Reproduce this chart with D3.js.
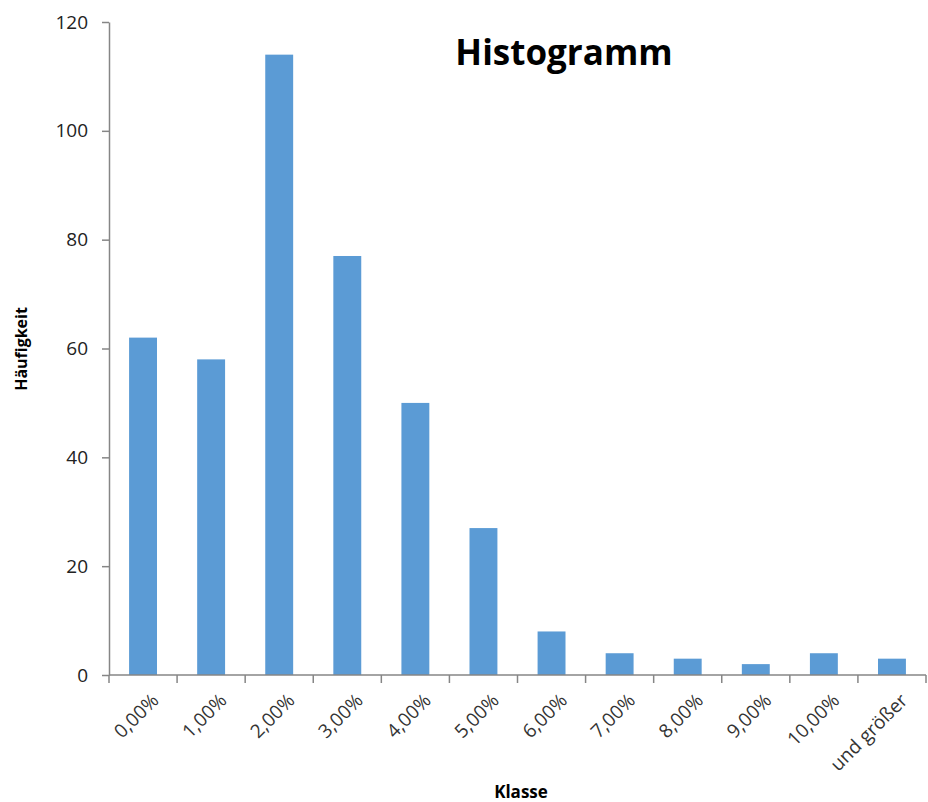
<!DOCTYPE html>
<html><head><meta charset="utf-8">
<script src="https://cdn.jsdelivr.net/npm/d3@7"></script>
<style>body{margin:0;background:#fff;font-family:"Open Sans",Calibri,sans-serif}</style>
</head><body><svg id="c" width="928" height="802"></svg>
<script>
const categories=["0,00%","1,00%","2,00%","3,00%","4,00%","5,00%","6,00%","7,00%","8,00%","9,00%","10,00%","und größer"];
const values=[62,58,114,77,50,27,8,4,3,2,4,3];
const yTicks=[0,20,40,60,80,100,120];
const svg=d3.select("#c");
const L=109,R=926,T=22,B=675;
const x=d3.scaleBand().domain(categories).range([L,R]).paddingInner(0.59).paddingOuter(0.295);
const y=d3.scaleLinear().domain([0,120]).range([B,T]);
svg.selectAll("rect").data(values).join("rect")
 .attr("x",(d,i)=>x(categories[i])).attr("width",x.bandwidth())
 .attr("y",d=>y(d)).attr("height",d=>B-y(d)).attr("fill","#5b9bd5");
const gy=svg.append("g").attr("transform",`translate(${L},0)`)
 .call(d3.axisLeft(y).tickValues(yTicks).tickSize(7).tickPadding(14).tickSizeOuter(0));
gy.selectAll("text").attr("font-size",19).attr("fill","#222").attr("font-family","Open Sans");
const step=(R-L)/categories.length;
const gx=svg.append("g").attr("transform",`translate(0,${B})`);
gx.append("line").attr("x1",L).attr("x2",R).attr("stroke","#868686").attr("stroke-width",1.5);
d3.range(categories.length+1).forEach(i=>gx.append("line").attr("x1",L+i*step).attr("x2",L+i*step).attr("y1",0).attr("y2",8).attr("stroke","#868686").attr("stroke-width",1.5));
categories.forEach((c,i)=>{
 const cx=x(c)+x.bandwidth()/2+12;
 gx.append("text").attr("transform",`translate(${cx},22) rotate(-45)`).attr("text-anchor","end")
  .attr("font-size",19).attr("fill","#333").attr("dy","0.35em").text(c);
});
gy.select(".domain").attr("stroke","#868686").attr("stroke-width",1.5);
gy.selectAll("line").attr("stroke","#868686").attr("stroke-width",1.5);
svg.append("text").attr("x",564).attr("y",65).attr("text-anchor","middle").attr("font-size",35).attr("font-weight","bold").text("Histogramm");
svg.append("text").attr("x",521).attr("y",798).attr("text-anchor","middle").attr("font-size",17).attr("font-weight","bold").text("Klasse");
svg.append("text").attr("transform","translate(27,349) rotate(-90)").attr("text-anchor","middle").attr("font-size",16).attr("font-weight","bold").text("Häufigkeit");
</script></body></html>
